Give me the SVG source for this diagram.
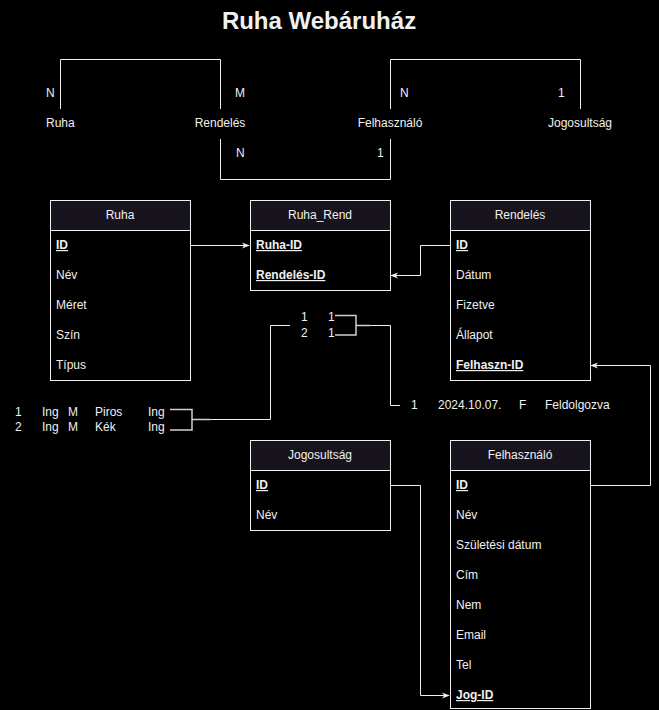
<svg xmlns="http://www.w3.org/2000/svg" width="659" height="710" viewBox="0 0 659 710">
<defs>
<style>
text{font-family:"Liberation Sans",Arial,Helvetica,sans-serif;font-size:12px;fill:#f0f0f0}
.title{font-size:24px;font-weight:bold}
.b{font-weight:normal}
.k{font-weight:bold;text-decoration:underline}
.c{text-anchor:middle}
.box{fill:#000;stroke:#f0f0f0;stroke-width:1}
.hd{fill:#18141d;stroke:#f0f0f0;stroke-width:1}
.ln{fill:none;stroke:#f0f0f0;stroke-width:1}
.br{fill:none;stroke:#d0d0d0;stroke-width:1.5}
</style>
<marker id="arr" viewBox="0 0 10 10" refX="9" refY="5" markerWidth="8" markerHeight="8" markerUnits="userSpaceOnUse" orient="auto">
<path d="M0,1 L10,5 L0,9 L3,5 Z" fill="#f0f0f0"/>
</marker>
</defs>
<rect width="659" height="710" fill="#000"/>
<text class="title c" x="319" y="29">Ruha Webáruház</text>

<g id="er-top">
<text x="46" y="127">Ruha</text>
<text class="c" x="220" y="127">Rendelés</text>
<text class="c" x="390" y="127">Felhasználó</text>
<text class="c" x="580" y="127">Jogosultság</text>
<text class="b" x="46" y="97">N</text>
<text class="b" x="235" y="97">M</text>
<text class="b" x="236" y="157">N</text>
<text class="b" x="377" y="157">1</text>
<text class="b" x="400" y="97">N</text>
<text class="b" x="558" y="97">1</text>
</g>

<g id="ruha">
<rect class="box" x="50.5" y="200.5" width="140" height="180"/>
<rect class="hd" x="50.5" y="200.5" width="140" height="30"/>
<text class="c" x="120" y="219">Ruha</text>
<text class="k" x="56" y="249">ID</text>
<text x="56" y="279">Név</text>
<text x="56" y="309">Méret</text>
<text x="56" y="339">Szín</text>
<text x="56" y="369">Típus</text>
</g>

<g id="ruha_rend">
<rect class="box" x="250.5" y="200.5" width="140" height="90"/>
<rect class="hd" x="250.5" y="200.5" width="140" height="30"/>
<text class="c" x="320" y="219">Ruha_Rend</text>
<text class="k" x="256" y="249">Ruha-ID</text>
<text class="k" x="256" y="279">Rendelés-ID</text>
</g>

<g id="rendeles">
<rect class="box" x="450.5" y="200.5" width="140" height="180"/>
<rect class="hd" x="450.5" y="200.5" width="140" height="30"/>
<text class="c" x="520" y="219">Rendelés</text>
<text class="k" x="456" y="249">ID</text>
<text x="456" y="279">Dátum</text>
<text x="456" y="309">Fizetve</text>
<text x="456" y="339">Állapot</text>
<text class="k" x="456" y="369">Felhaszn-ID</text>
</g>

<g id="jogosultsag">
<rect class="box" x="250.5" y="440.5" width="140" height="90"/>
<rect class="hd" x="250.5" y="440.5" width="140" height="30"/>
<text class="c" x="320" y="459">Jogosultság</text>
<text class="k" x="256" y="489">ID</text>
<text x="256" y="519">Név</text>
</g>

<g id="felhasznalo">
<rect class="box" x="450.5" y="440.5" width="140" height="268"/>
<rect class="hd" x="450.5" y="440.5" width="140" height="30"/>
<text class="c" x="520" y="459">Felhasználó</text>
<text class="k" x="456" y="489">ID</text>
<text x="456" y="519">Név</text>
<text x="456" y="549">Születési dátum</text>
<text x="456" y="579">Cím</text>
<text x="456" y="609">Nem</text>
<text x="456" y="639">Email</text>
<text x="456" y="669">Tel</text>
<text class="k" x="456" y="699">Jog-ID</text>
</g>

<g id="data-ruha">
<text x="15" y="416">1</text>
<text x="42" y="416">Ing</text>
<text x="68" y="416">M</text>
<text x="95" y="416">Piros</text>
<text x="148" y="416">Ing</text>
<text x="15" y="431">2</text>
<text x="42" y="431">Ing</text>
<text x="68" y="431">M</text>
<text x="95" y="431">Kék</text>
<text x="148" y="431">Ing</text>
</g>

<g id="data-ruharend">
<text x="301" y="321">1</text>
<text x="328" y="321">1</text>
<text x="301" y="337">2</text>
<text x="328" y="337">1</text>
</g>

<g id="data-rendeles">
<text x="411" y="409">1</text>
<text x="438" y="409">2024.10.07.</text>
<text x="519" y="409">F</text>
<text x="545" y="409">Feldolgozva</text>
</g>

<g id="connectors">
<path class="ln" d="M60.5,109 V59.5 H220.5 V109"/>
<path class="ln" d="M220.5,139 V179.5 H390.5 V139"/>
<path class="ln" d="M390.5,109 V59.5 H580.5 V109"/>
<path class="ln" d="M191,245.5 H249" marker-end="url(#arr)"/>
<path class="ln" d="M450,245.5 H420.5 V275.5 H391" marker-end="url(#arr)"/>
<path class="ln" d="M591,485.5 H650.5 V365.5 H591" marker-end="url(#arr)"/>
<path class="ln" d="M391,485.5 H420.5 V695.5 H449" marker-end="url(#arr)"/>
<path class="br" d="M170,409.5 H192 V430 H170 M192,419.5 H210"/>
<path class="ln" d="M210,419.5 H270.5 V325.5 H290"/>
<path class="br" d="M335,315.5 H356 V335 H335 M356,325.5 H370"/>
<path class="ln" d="M370,325.5 H390.5 V405.5 H400"/>
</g>
</svg>
